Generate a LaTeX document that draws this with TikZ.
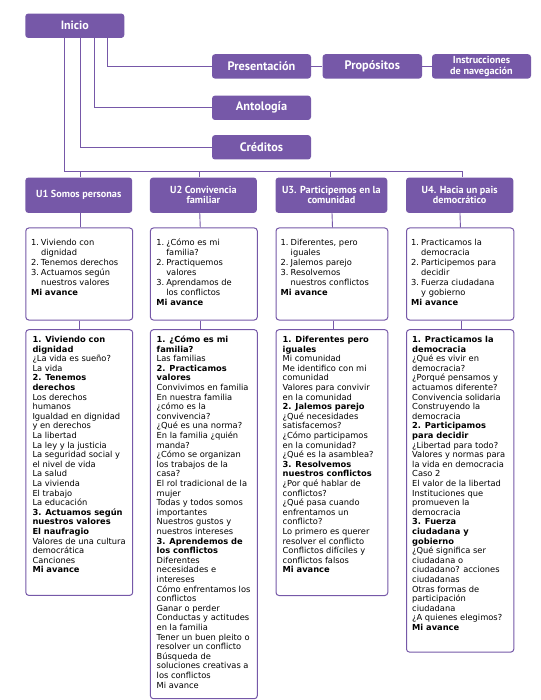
\documentclass[tikz,border=0pt]{standalone}
\usepackage{fontspec}
\setmainfont{DejaVu Sans}
\newfontfamily\hdfont{PT Sans}
\definecolor{purp}{RGB}{118,88,168}
\newcommand\firstrule{\rule{0pt}{7pt}}
\newcommand\itm[1]{\makebox[10pt][l]{#1}}
\newcommand\ind{\hspace*{10pt}}
\begin{document}
\begin{tikzpicture}[x=1pt,y=-1pt,
  topbox/.style={fill=purp, rounded corners=3pt, text=white, font=\hdfont\bfseries\fontsize{12.3}{13}\selectfont, minimum width=99pt, minimum height=24.4pt, inner sep=0pt, align=center},
  smallbox/.style={topbox, font=\hdfont\bfseries\fontsize{10.2}{10.2}\selectfont},
  hdbox/.style={fill=purp, rounded corners=3pt, text=white, font=\hdfont\bfseries\fontsize{10.2}{10.2}\selectfont, minimum height=35.3pt, inner sep=0pt, align=center},
  lbox/.style={draw=purp, line width=1pt, rounded corners=3pt, fill=white, inner sep=0pt, anchor=north west},
  ltext/.style={anchor=north west, inner sep=0pt, align=left, font=\fontsize{8.3}{9.6}\selectfont},
  ttext/.style={anchor=north west, inner sep=0pt, align=left, font=\fontsize{8.3}{10.1}\selectfont},
  conn/.style={draw=purp, line width=0.9pt}]
\useasboundingbox[fill=white] (0,0) rectangle (540,700);

% top row
\node[topbox, font=\hdfont\bfseries\fontsize{12}{13}\selectfont] (ini) at (74.8,25.75) {Inicio};
\node[topbox] (pres) at (261.5,66.4) {Presentación};
\node[topbox, minimum width=99.4pt] (prop) at (372.3,66.4) {Propósitos};
\node[smallbox] (instr) at (481.5,66.4) {Instrucciones\\de navegación};
\node[topbox] (anto) at (261.5,107.8) {Antología};
\node[topbox] (cred) at (261.5,147.3) {Créditos};

\draw[conn] ([xshift=32.2pt]ini.south) |- (pres.west);
\draw[conn] ([xshift=20pt]ini.south) |- (anto.west);
\draw[conn] ([xshift=5.8pt]ini.south) |- (cred.west);
\draw[conn] (pres.east) -- (prop.west);
\draw[conn] (prop.east) -- (instr.west);

% unit headers
\node[hdbox, minimum width=106.9pt] (u1) at (78.75,195.25) {U1 Somos personas};
\node[hdbox, minimum width=106.9pt] (u2) at (203.35,195.25) {U2 Convivencia\\familiar};
\node[hdbox, minimum width=111.8pt] (u3) at (331.4,195.25) {U3. Participemos en la\\comunidad};
\node[hdbox, minimum width=107.3pt] (u4) at (459.65,195.25) {U4. Hacia un pais\\democrático};

\coordinate (d1) at (80.6,171.3);
\coordinate (d2) at (199.4,171.3);
\coordinate (d3) at (330,171.3);
\coordinate (d4) at (462,171.3);
\draw[conn] ([xshift=-10.8pt]ini.south) |- (d4);
\draw[conn] (d1) -- (d1 |- u1.north);
\draw[conn] (d2) -- (d2 |- u2.north);
\draw[conn] (d3) -- (d3 |- u3.north);
\draw[conn] (d4) -- (d4 |- u4.north);

% top list boxes
\node[lbox, minimum width=106.9pt, minimum height=92pt] (l1) at (25.3,227.5) {};
\node[lbox, minimum width=106.9pt, minimum height=92pt] (l2) at (149.9,227.5) {};
\node[lbox, minimum width=111.8pt, minimum height=92pt] (l3) at (275.5,227.5) {};
\node[lbox, minimum width=107.3pt, minimum height=92pt] (l4) at (406,227.5) {};

\draw[conn] ([xshift=1.2pt]u1.south) -- ([xshift=1.2pt]u1.south |- l1.north);
\draw[conn] ([xshift=-3.6pt]u2.south) -- ([xshift=-3.6pt]l2.north);
\draw[conn] ([xshift=0.6pt]u3.south) -- ([xshift=0.6pt]l3.north);
\draw[conn] ([xshift=0.3pt]u4.south) -- ([xshift=0.3pt]l4.north);

\node[ttext] (l1t) at ([xshift=5.5pt,yshift=-10.5pt]l1.north west) {\firstrule\itm{1.}Viviendo con\\
\ind dignidad\\
\itm{2.}Tenemos derechos\\
\itm{3.}Actuamos según\\
\ind nuestros valores\\
\textbf{Mi avance}};
\node[ttext] (l2t) at ([xshift=6.2pt,yshift=-10.5pt]l2.north west) {\firstrule\itm{1.}¿Cómo es mi\\
\ind familia?\\
\itm{2.}Practiquemos\\
\ind valores\\
\itm{3.}Aprendamos de\\
\ind los conflictos\\
\textbf{Mi avance}};
\node[ttext] (l3t) at ([xshift=5pt,yshift=-10.5pt]l3.north west) {\firstrule\itm{1.}Diferentes, pero\\
\ind iguales\\
\itm{2.}Jalemos parejo\\
\itm{3.}Resolvemos\\
\ind nuestros conflictos\\
\textbf{Mi avance}};
\node[ttext] (l4t) at ([xshift=5pt,yshift=-10.5pt]l4.north west) {\firstrule\itm{1.}Practicamos la\\
\ind democracia\\
\itm{2.}Participemos para\\
\ind decidir\\
\itm{3.}Fuerza ciudadana\\
\ind y gobierno\\
\textbf{Mi avance}};

% bottom boxes
\node[lbox, minimum width=106.9pt, minimum height=265.7pt] (b1) at (25.3,329.2) {};
\node[lbox, minimum width=106.9pt, minimum height=369pt] (b2) at (149.9,329.2) {};
\node[lbox, minimum width=111.8pt, minimum height=265.8pt] (b3) at (275.5,329.2) {};
\node[lbox, minimum width=107.3pt, minimum height=322.4pt] (b4) at (406,329.2) {};

\draw[conn] ([xshift=0.3pt]l1.south) -- ([xshift=0.3pt]b1.north);
\draw[conn] ([xshift=-3.6pt]l2.south) -- ([xshift=-3.6pt]b2.north);
\draw[conn] ([xshift=1.5pt]l3.south) -- ([xshift=1.5pt]b3.north);
\draw[conn] ([xshift=1pt]l4.south) -- ([xshift=1pt]b4.north);

\node[ltext] (b1t) at ([xshift=7pt,yshift=-6pt]b1.north west) {\firstrule\textbf{1. Viviendo con}\\
\textbf{dignidad}\\
¿La vida es sueño?\\
La vida\\
\textbf{2. Tenemos}\\
\textbf{derechos}\\
Los derechos\\
humanos\\
Igualdad en dignidad\\
y en derechos\\
La libertad\\
La ley y la justicia\\
La seguridad social y\\
el nivel de vida\\
La salud\\
La vivienda\\
El trabajo\\
La educación\\
\textbf{3. Actuamos según}\\
\textbf{nuestros valores}\\
\textbf{El naufragio}\\
Valores de una cultura\\
democrática\\
Canciones\\
\textbf{Mi avance}};

\node[ltext] (b2t) at ([xshift=6.6pt,yshift=-6pt]b2.north west) {\firstrule\textbf{1. ¿Cómo es mi}\\
\textbf{familia?}\\
Las familias\\
\textbf{2. Practicamos}\\
\textbf{valores}\\
Convivimos en familia\\
En nuestra familia\\
¿cómo es la\\
convivencia?\\
¿Qué es una norma?\\
En la familia ¿quién\\
manda?\\
¿Cómo se organizan\\
los trabajos de la\\
casa?\\
El rol tradicional de la\\
mujer\\
Todas y todos somos\\
importantes\\
Nuestros gustos y\\
nuestros intereses\\
\textbf{3. Aprendemos de}\\
\textbf{los conflictos}\\
Diferentes\\
necesidades e\\
intereses\\
Cómo enfrentamos los\\
conflictos\\
Ganar o perder\\
Conductas y actitudes\\
en la familia\\
Tener un buen pleito o\\
resolver un conflicto\\
Búsqueda de\\
soluciones creativas a\\
los conflictos\\
Mi avance};

\node[ltext] (b3t) at ([xshift=7pt,yshift=-6pt]b3.north west) {\firstrule\textbf{1. Diferentes pero}\\
\textbf{iguales}\\
Mi comunidad\\
Me identifico con mi\\
comunidad\\
Valores para convivir\\
en la comunidad\\
\textbf{2. Jalemos parejo}\\
¿Qué necesidades\\
satisfacemos?\\
¿Cómo participamos\\
en la comunidad?\\
¿Qué es la asamblea?\\
\textbf{3. Resolvemos}\\
\textbf{nuestros conflictos}\\
¿Por qué hablar de\\
conflictos?\\
¿Qué pasa cuando\\
enfrentamos un\\
conflicto?\\
Lo primero es querer\\
resolver el conflicto\\
Conflictos difíciles y\\
conflictos falsos\\
\textbf{Mi avance}};

\node[ltext] (b4t) at ([xshift=6pt,yshift=-6pt]b4.north west) {\firstrule\textbf{1. Practicamos la}\\
\textbf{democracia}\\
¿Qué es vivir en\\
democracia?\\
¿Porqué pensamos y\\
actuamos diferente?\\
Convivencia solidaria\\
Construyendo la\\
democracia\\
\textbf{2. Participamos}\\
\textbf{para decidir}\\
¿Libertad para todo?\\
Valores y normas para\\
la vida en democracia\\
Caso 2\\
El valor de la libertad\\
Instituciones que\\
promueven la\\
democracia\\
\textbf{3. Fuerza}\\
\textbf{ciudadana y}\\
\textbf{gobierno}\\
¿Qué significa ser\\
ciudadana o\\
ciudadano? acciones\\
ciudadanas\\
Otras formas de\\
participación\\
ciudadana\\
¿A quienes elegimos?\\
\textbf{Mi avance}};
\end{tikzpicture}
\end{document}
